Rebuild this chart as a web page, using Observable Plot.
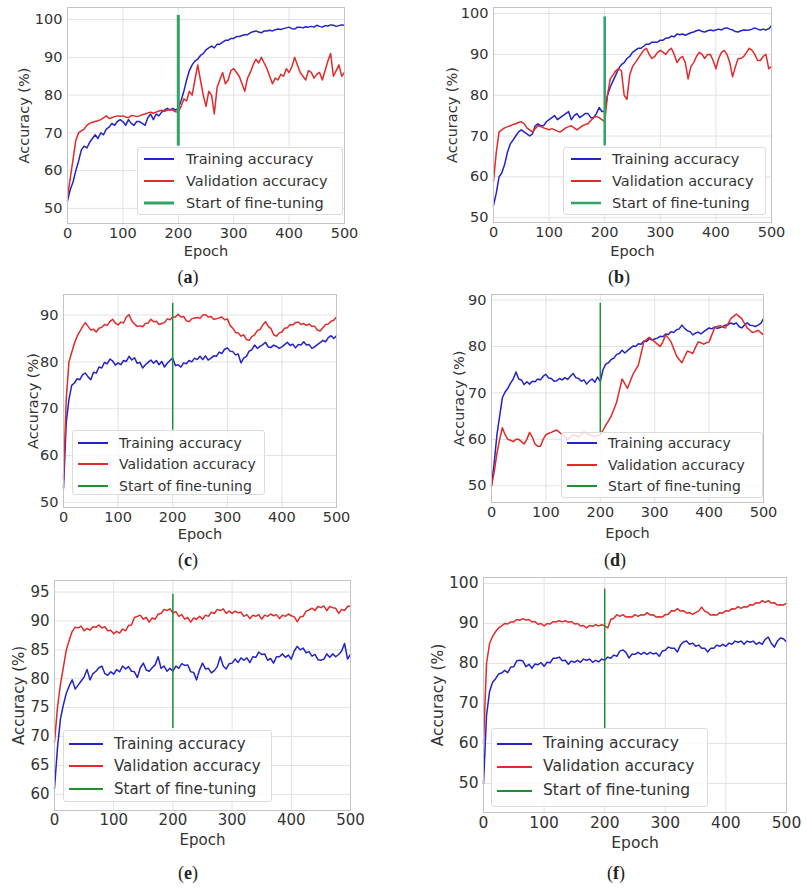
<!DOCTYPE html>
<html>
<head>
<meta charset="utf-8">
<script src="https://cdn.jsdelivr.net/npm/d3@7"></script>
<script src="https://cdn.jsdelivr.net/npm/@observablehq/plot@0.6"></script>
<style>
  html, body { margin: 0; padding: 0; background: #fff; }
  #root { position: relative; width: 806px; height: 888px; overflow: hidden; font-family: "DejaVu Sans", sans-serif; }
  .panel { position: absolute; }
  .legend { position: absolute; background: rgba(255,255,255,0.82); border: 1px solid #dcdcdc; border-radius: 3px; box-sizing: border-box; }
  .legend svg { position: absolute; left: 0; top: 0; overflow: visible; }
  .legend span { position: absolute; white-space: nowrap; color: #333; line-height: 1; transform: translateY(-50%); }
  .caption { position: absolute; font-family: "Liberation Serif", "DejaVu Serif", serif; font-size: 18px; color: #222; transform: translate(-50%, -50%); white-space: nowrap; }
</style>
</head>
<body>
<div id="root"></div>
<script>
// ---------------- DATA ----------------
const epochs = [
  0,5,10,15,20,25,30,35,40,45, 50,55,60,65,70,75,80,85,90,95,
  100,105,110,115,120,125,130,135,140,145, 150,155,160,165,170,175,180,185,190,195,
  200,205,210,215,220,225,230,235,240,245, 250,255,260,265,270,275,280,285,290,295,
  300,305,310,315,320,325,330,335,340,345, 350,355,360,365,370,375,380,385,390,395,
  400,405,410,415,420,425,430,435,440,445, 450,455,460,465,470,475,480,485,490,495,
  500
];
const seriesNames = ["Training accuracy", "Validation accuracy", "Start of fine-tuning"];
const panelLabels = ["a", "b", "c", "d", "e", "f"];
const fineTuneEpoch = 200;
const xTicks = [0, 100, 200, 300, 400, 500];

// (a)
const trainA = [
  52,55,57,60,62.5,65.5,66.5,66,67.5,68.5,
  69.5,68.5,70,69.5,71,71.5,72.5,72,73,73.5,
  73,72,73.5,72.5,72,73,73,72.5,72,74,
  75,73.5,75,74.5,75.5,76,76.5,76,76.5,76,
  76.5,78.5,81,84,86.5,88,89,89.5,90.5,91,
  92,92.5,93,92.5,93.5,93.5,94,94.5,94.5,95,
  95,95.5,95.5,95.8,96,96,96.5,96.8,97,96.7,
  96.5,97,97,97.2,97,97.3,97.5,97.4,97.6,97.8,
  98,97.6,97.5,98,98,97.8,98.1,98,98.2,98,
  98.5,98.2,98,98.4,98.3,98.6,98.5,98.2,98.4,98.6,
  98.5
];
const valA = [
  53,58,63,68,70,70.5,71,72,72.5,72.8,
  73,73.2,73.5,74,74.5,73.8,74,74.3,74.5,74.4,
  74.5,74.2,74,74.6,74.5,74.3,74.5,74.8,75,75.3,
  75.5,75.2,75.5,75.8,76,75.7,76,76.2,76,75.6,
  75.5,77,79,78.5,81,80,84,88,84,80,
  77,81,80,75,82,84,86,83,84,86.5,
  87,86,85,83,81,84.5,86,88,89.5,88.5,
  90,88.5,87,85,83,84.5,84,85.5,85,87,
  86,87.5,90,88,86,85,84,86.5,86,84.5,
  85.5,86,84,86.5,89,91,85,86.5,88,85,
  86
];
// (b)
const trainB = [
  53,56,60,61,63,66,68,69,70,71,
  71.5,71,70.5,70,70.5,72.5,73,72.5,72.5,73.5,
  74,74.5,75,74,74.5,75,75.5,76,74,75,
  75.5,74.5,75,75.5,75.5,74.5,74.5,75.5,77,76,
  76,80,82,83.5,85,86.5,87.5,88,89,89.5,
  90.5,91,91.5,91.5,92,92.5,92.5,93,93,93,
  93.5,93.5,94,94,94.5,94.3,95,94.8,95,94.7,
  95,95.3,95.5,95.8,96,95.6,95.5,95.8,96,95.8,
  96,96.2,96,96.4,96.5,96.2,96,95.6,95.5,95.8,
  96,95.9,96,96.2,96.5,96.2,96,96.2,96,96.3,
  97
];
const valB = [
  59,66,71,71.5,72,72.3,72.5,72.8,73,73.3,
  73.5,73,72,71.5,71,71.8,72.5,72.3,72,71.8,
  71.5,71.8,71.5,71.2,71,71.5,72,72.3,72.5,72,
  71.5,72,72.5,72.8,73,73.8,74.5,74.8,74.5,74,
  73.5,80,84,85,86,86.5,86,80,79,85,
  87,88,89,90,91,91.5,90,89,89.5,90.5,
  91,90.5,90,91,91.5,90,88,89,89.5,88,
  84,87,88,89.5,90.5,90,89,90,90,88.5,
  86.5,89,90.5,91,90,88,84.5,87,89,89,
  89.5,90.5,91.5,91,90,88.5,88.5,89.5,90,86.5,
  87
];
// (c)
const trainC = [
  53,67,72,75,75.5,76.4,76.2,77.3,77.6,76.8,
  76.2,77.8,77.6,78.9,78.7,79.9,79.6,80.6,80.2,79.3,
  79.8,79.4,80.3,80.1,81.2,80.4,80.9,79.7,79.9,78.7,
  79.4,79.9,80.4,79.7,80.3,79.4,80.1,78.9,79.7,80.3,
  80.8,79.2,79.4,78.9,79.8,79.6,80.3,80,80.8,80.5,
  81.2,80.5,81.3,80.4,80.8,81.3,81.2,82.1,81.8,82.7,
  83,82.3,82.2,81.5,81.7,79.8,80.8,81.2,82.3,82.6,
  83.6,82.9,83.3,83.7,84.2,83.2,83.1,83.6,83.3,82.9,
  83.2,83.7,84.2,83.5,83.8,83,83.7,83.6,84.3,83.6,
  83.7,82.9,83.2,83.7,84.1,84.6,84.3,85.2,85.6,85,
  85.6
];
const valC = [
  55,72,80,82,84,85.5,86.5,87.6,88.4,87.6,
  86.8,87,86.4,87.2,87.4,88,87.8,88.6,89.1,88.3,
  87.9,88.5,88.3,89.6,90.1,88.8,88.1,87.6,87.7,87.5,
  88.2,88.3,89.1,88.6,88.7,88,88.2,88.4,89.2,89,
  89.6,89.6,90.2,89.6,89.7,88.8,88.6,89.2,89.4,89.5,
  89.3,90,90.1,89.6,89.7,89.1,89.2,89.4,89.6,89,
  89.2,87.8,87.2,86.3,86.2,85.5,85.8,84.8,84.6,85.4,
  85.8,86.7,86.9,87.9,88.6,87.6,87.1,85.8,85.5,86.2,
  86.4,87.2,87.3,88,87.9,88.4,88.5,88,88.2,87.8,
  88.1,87.6,87.6,86.8,86.6,87.3,88,88.1,88.7,88.9,
  89.6
];
// (d)
const trainD = [
  50,55,61,65,69,70.2,71,72.1,73,74.5,
  73,72.8,71.8,72.4,71.9,72.5,72.4,73,72.8,73.6,
  74,73.2,73.1,72.5,72.6,73.1,72.8,73.3,72.9,73.6,
  74.2,73.3,73.1,72.5,72.8,71.9,72.6,73,72.3,73.4,
  72.5,75,76.2,76.5,77.2,77.5,78.3,78.5,79.2,78.6,
  79.1,79.6,80.1,80,80.6,80.5,81.2,81.1,81.7,81.4,
  81.6,81.8,82.2,82.1,82.7,82.6,83.2,83,83.6,83.8,
  84.6,83.9,83.4,83.2,82.5,82.9,83.1,82.7,83.2,83.6,
  84,83.8,84.2,83.9,84.1,84.3,84.6,84.7,85.1,84.8,
  85.1,84.3,84,84.6,85.1,84.6,84.5,84.3,84.6,85,
  86
];
const valD = [
  50,53,57,60,62.5,61,60,59.8,59.5,60,
  60,59.5,59,60,61.5,60.5,59,58.5,58.5,60,
  61,61.3,61.5,61.8,62,61.5,61,60.5,60,60.5,
  61,60.8,60.5,61,61.5,61.3,61,60.8,60.5,60.8,
  61,62,63,64,65,66.5,68,70.5,73,72,
  71,72.5,74,75,76,78.5,81,81.5,82,81.5,
  81,80.5,80,81,82.5,81.8,81,79.5,78,77.2,
  76.5,77.8,79,78.8,78.5,79.8,81,80.8,80.5,80.8,
  81,82.5,84,84.3,84.5,84.2,84,85,86,86.5,
  87,86.5,86,85,84,83.5,83,83.2,83.5,83,
  82.5
];
// (e)
const trainE = [
  61,68,73,75.5,77.5,78.8,79.8,78.2,78.9,79.6,
  80.3,81.6,79.8,80.9,81.3,81.9,82.2,80.9,80.6,81.2,
  80.8,81.6,81.2,82.2,81.7,82.1,81.3,81.2,80.2,81.9,
  82.7,81.5,81.3,81.9,82.4,83.8,81.8,82.2,81.3,81.8,
  81.3,82.2,81.8,82.6,82.3,82.4,81.2,81.1,79.8,81.5,
  82.7,81.7,81.8,81,81.4,82.1,83.8,82.2,81.7,82.6,
  82.7,83.4,82.8,83.6,83.2,83.6,82.8,83.8,83.7,84.6,
  84.2,84.3,83.2,83.5,82.7,83.8,83.8,84.3,83.7,84.1,
  83.4,84.8,85.6,85,85.3,84.5,84.7,83.9,84.2,83.3,
  83.2,83.4,84.3,83.7,84.3,83.8,84.2,84.8,86.1,83.4,
  84.2
];
const valE = [
  69,75,79,82,85,86.7,88.2,88.9,88.8,89.1,
  88.3,88.7,88.4,89,88.9,89.3,88.8,89,88.3,88.4,
  87.8,88.2,87.9,88.6,88.3,89.2,89.3,90.6,90.8,91,
  90.3,90.6,89.8,90.5,90.3,91.2,91.3,92,91.8,92.1,
  91.4,91.6,90.8,91.1,90.3,90.6,89.8,90.5,90.3,90.8,
  90.3,91,90.8,91.5,91.3,92,91.8,92.1,91.3,91.7,
  91.3,91.7,91.4,91.5,90.8,91.1,90.4,91,90.8,91.1,
  90.3,91,90.8,91.2,90.9,91.1,90.4,91,90.8,91.2,
  90.9,90.7,89.9,90.7,90.8,91.7,91.9,92.2,91.8,92.5,
  92.3,92.6,91.8,92.5,92.3,92.2,91.3,92,91.8,92.5,
  92.6
];
// (f)
const trainF = [
  50,67,73,75.3,76.2,77.4,77.6,78.3,77.7,79.1,
  79.2,80.7,80.8,80.6,79.2,79.8,78.8,79.9,79.7,80.2,
  79.3,80.3,80.2,81.3,81.3,81.6,80.7,80.8,79.8,80.6,
  80.3,80.8,80.3,81.1,80.8,81.1,80.3,80.8,80.4,81.1,
  80.8,81.6,81.3,82.1,81.8,83.1,83.4,82.8,81.4,82.3,
  82.3,82.8,82.3,82.8,82.3,82.8,82.4,82.6,81.8,83.1,
  83.3,84.1,83.8,83.8,82.9,84.6,85.4,85.6,84.8,85.1,
  84.3,84.6,83.8,83.8,82.9,83.8,83.8,84.6,84.3,84.8,
  84.3,85.1,84.8,85.6,85.3,85.6,84.8,85.6,85.3,85.6,
  84.8,85.3,84.8,86.1,86.6,85,84.1,85.6,86.4,86.2,
  85.4
];
const valF = [
  60,80,85,86.8,88,88.9,89.4,90,89.9,90.4,
  90.4,91,90.8,91.2,90.9,91,90.4,90.5,89.8,90,
  89.4,90,89.9,90.5,90.4,90.7,90.4,90.7,90.3,90.5,
  89.9,90,89.4,89.5,88.9,89.5,89.3,89.7,89.4,89.7,
  89.4,88.9,91,91.3,92.2,91.8,92.2,91.6,91.7,91.6,
  92.2,91.8,92.2,92.1,92.7,92.1,92.2,91.6,91.7,91.6,
  92.2,92.3,93.2,93.1,93.7,93.1,93.2,92.6,92.7,92.3,
  92.7,93.1,94.1,93.1,92.7,92.1,92.2,92.1,92.7,92.6,
  93.2,93.1,93.7,93.6,94.2,93.8,94.2,94.1,94.7,94.6,
  95.2,95.1,95.7,95.3,95.7,95.1,95.2,94.6,94.7,94.6,
  95.1
];

const trainSeries = [trainA, trainB, trainC, trainD, trainE, trainF];
const valSeries = [valA, valB, valC, valD, valE, valF];
const yTickSets = [
  [50, 60, 70, 80, 90, 100],
  [50, 60, 70, 80, 90, 100],
  [50, 60, 70, 80, 90],
  [50, 60, 70, 80, 90],
  [60, 65, 70, 75, 80, 85, 90, 95],
  [50, 60, 70, 80, 90, 100]
];
const fineTuneTop = [101.1, 99.2, 92.5, 89.3, 94.6, 98.6];
const fineTuneBottom = [66.5, 67.6, 65.4, 61.5, 71.4, 63.7];

// ---------------- LAYOUT / STYLE ----------------
const colors = { train: "#2323c8", val: "#e12a2a" };
const greens = ["#2fa464", "#2fa464", "#1f8f2f", "#1f8f2f", "#1f8f2f", "#1f8f2f"];
const greenWidths = [3, 2.5, 1.5, 1.5, 1.5, 1.5];
const layout = [
  { left: 0,   top: 0,   w: 403, h: 290, mL: 67, mR: 59, mT: 7, mB: 67, yDomain: [46, 103.2],  xLab: 32, yLab: 49, font: 14.5,
    leg: { x: 137, y: 147, w: 206, h: 68, s1: 6, s2: 36, tx: 48, rows: [11, 33, 55], fs: 14.5 }, cap: [188, 277] },
  { left: 403, top: 0,   w: 403, h: 290, mL: 90, mR: 35, mT: 7, mB: 68, yDomain: [48.8, 101.5], xLab: 33, yLab: 47, font: 14.5,
    leg: { x: 563, y: 147, w: 203, h: 68, s1: 7, s2: 37, tx: 48, rows: [11, 33, 55], fs: 14.5 }, cap: [619, 277] },
  { left: 0,   top: 285, w: 403, h: 300, mL: 63, mR: 67, mT: 9, mB: 78, yDomain: [48.9, 94.4],  xLab: 31, yLab: 36, font: 14.5,
    leg: { x: 72, y: 430, w: 193, h: 65, s1: 5, s2: 35, tx: 46, rows: [12, 33, 55], fs: 14 }, cap: [188, 560] },
  { left: 403, top: 285, w: 403, h: 300, mL: 88, mR: 43, mT: 9, mB: 83, yDomain: [46.4, 91.2],  xLab: 35, yLab: 38, font: 14.5,
    leg: { x: 561, y: 432, w: 202, h: 66, s1: 5, s2: 35, tx: 46, rows: [10, 32, 53], fs: 14 }, cap: [615, 560] },
  { left: 0,   top: 575, w: 403, h: 313, mL: 54, mR: 53, mT: 5, mB: 78, yDomain: [57.2, 97.0],  xLab: 34, yLab: 41, font: 15,
    leg: { x: 63, y: 730, w: 209, h: 72, s1: 5, s2: 39, tx: 50, rows: [13, 35, 58], fs: 15 }, cap: [188, 873] },
  { left: 403, top: 575, w: 403, h: 313, mL: 80, mR: 20, mT: 2, mB: 76, yDomain: [42.75, 101.5], xLab: 35, yLab: 52, font: 15.5,
    leg: { x: 491, y: 728, w: 217, h: 79, s1: 5, s2: 40, tx: 51, rows: [15, 38, 62], fs: 15.5 }, cap: [616, 873] }
];

const root = document.getElementById("root");

layout.forEach((L, i) => {
  const train = epochs.map((e, j) => ({ epoch: e, acc: trainSeries[i][j] }));
  const val = epochs.map((e, j) => ({ epoch: e, acc: valSeries[i][j] }));
  const yTicks = yTickSets[i];
  const chart = Plot.plot({
    width: L.w, height: L.h,
    marginLeft: L.mL, marginRight: L.mR, marginTop: L.mT, marginBottom: L.mB,
    style: { fontFamily: "DejaVu Sans, sans-serif", fontSize: L.font + "px", color: "#333", background: "transparent", overflow: "visible" },
    x: { domain: [0, 500] },
    y: { domain: L.yDomain },
    marks: [
      Plot.gridX(xTicks, { stroke: "#e2e2e2", strokeOpacity: 1, strokeWidth: 1 }),
      Plot.gridY(yTicks, { stroke: "#e2e2e2", strokeOpacity: 1, strokeWidth: 1 }),
      Plot.axisX(xTicks, { tickSize: 0, tickPadding: 4, label: "Epoch", labelAnchor: "center", labelArrow: "none", labelOffset: L.xLab, fontSize: L.font }),
      Plot.axisY(yTicks, { tickSize: 0, tickPadding: 5, label: "Accuracy (%)", labelAnchor: "center", labelArrow: "none", labelOffset: L.yLab, fontSize: L.font }),
      Plot.line(train, { x: "epoch", y: "acc", stroke: colors.train, strokeWidth: 1.5 }),
      Plot.line(val, { x: "epoch", y: "acc", stroke: colors.val, strokeWidth: 1.5 }),
      Plot.ruleX([fineTuneEpoch], { y1: fineTuneBottom[i], y2: fineTuneTop[i], stroke: greens[i], strokeWidth: greenWidths[i] }),
      Plot.frame({ stroke: "#c4c4c4", strokeWidth: 1 })
    ]
  });
  const wrap = document.createElement("div");
  wrap.className = "panel";
  wrap.style.left = L.left + "px";
  wrap.style.top = L.top + "px";
  wrap.appendChild(chart);
  root.appendChild(wrap);

  // legend
  const g = L.leg;
  const leg = document.createElement("div");
  leg.className = "legend";
  leg.style.left = g.x + "px"; leg.style.top = g.y + "px";
  leg.style.width = g.w + "px"; leg.style.height = g.h + "px";
  const swColors = [colors.train, colors.val, greens[i]];
  const swWidths = [2, 2, Math.max(2, greenWidths[i])];
  let svg = `<svg width="${g.w}" height="${g.h}">`;
  g.rows.forEach((ry, k) => {
    svg += `<line x1="${g.s1}" x2="${g.s2}" y1="${ry}" y2="${ry}" stroke="${swColors[k]}" stroke-width="${swWidths[k]}"/>`;
  });
  svg += `</svg>`;
  leg.innerHTML = svg;
  g.rows.forEach((ry, k) => {
    const s = document.createElement("span");
    s.textContent = seriesNames[k];
    s.style.left = g.tx + "px";
    s.style.top = ry + "px";
    s.style.fontSize = g.fs + "px";
    leg.appendChild(s);
  });
  root.appendChild(leg);

  // caption
  const cap = document.createElement("div");
  cap.className = "caption";
  cap.style.left = L.cap[0] + "px";
  cap.style.top = L.cap[1] + "px";
  cap.innerHTML = `(<b>${panelLabels[i]}</b>)`;
  root.appendChild(cap);
});
</script>
</body>
</html>
